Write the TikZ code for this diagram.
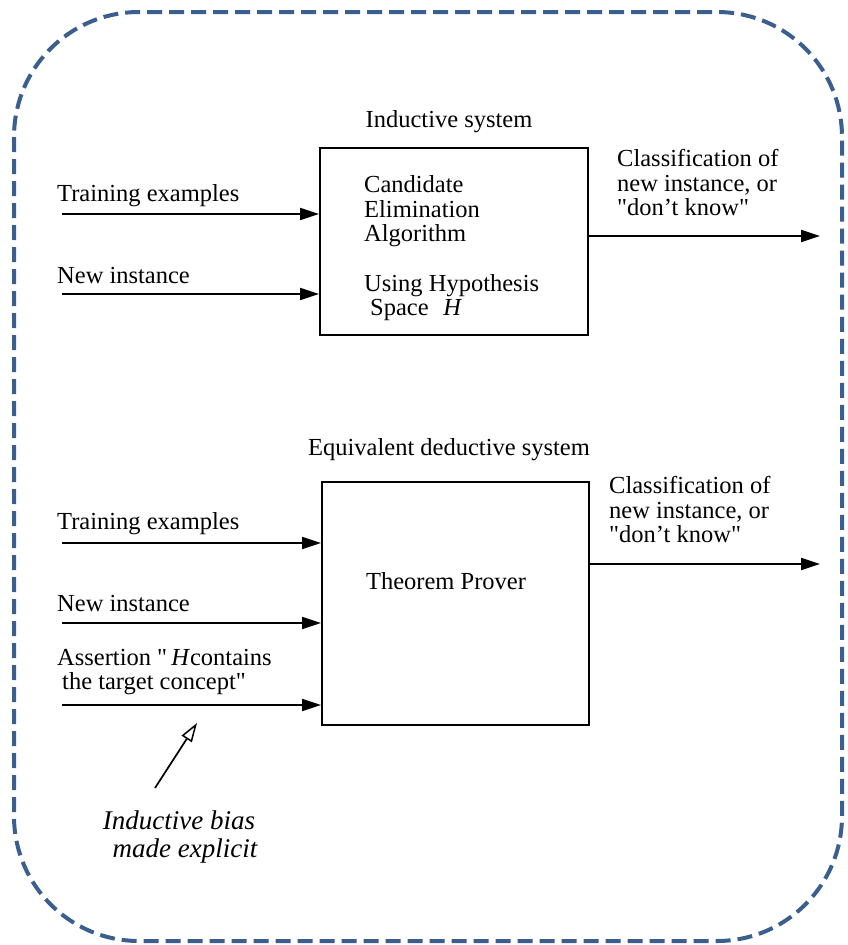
\documentclass[tikz,border=0pt]{standalone}
\usepackage{fontspec}
\setmainfont{Liberation Serif}[Ligatures=TeXOff]
\usetikzlibrary{arrows.meta}
\definecolor{frameblue}{HTML}{3A5F8F}
\tikzset{
  lbl/.style={font=\fontsize{24.5}{25}\selectfont, inner sep=0pt, align=left},
  biglbl/.style={font=\fontsize{27}{28}\selectfont\itshape, inner sep=0pt, align=center},
  boxnode/.style={draw, line width=1.8pt, inner sep=0pt},
  arr/.style={line width=1.8pt, -{Triangle[length=19pt,width=12pt]}},
  openarr/.style={line width=1.7pt, -{Triangle[open,length=19pt,width=12pt,line width=1.5pt]}},
  frame/.style={draw=frameblue, line width=4pt, dash pattern=on 15pt off 7pt, rounded corners=125pt}
}
\begin{document}
\begin{tikzpicture}[x=1pt,y=-1pt]
\useasboundingbox (0,0) rectangle (848,945);
\draw[frame] (14,12) rectangle (842,941);

% ---------- Inductive system ----------
\node[lbl, anchor=base] (ttl1) at (449,127) {Inductive system};
\node[boxnode, minimum width=268pt, minimum height=187pt] (box1) at (454,241.5) {};
\node[lbl, anchor=base west] (c1) at (364,192) {Candidate};
\node[lbl, anchor=base west] (c2) at (364,217) {Elimination};
\node[lbl, anchor=base west] (c3) at (364,241) {Algorithm};
\node[lbl, anchor=base west] (c4) at (364,291) {Using Hypothesis};
\node[lbl, anchor=base west] (c5) at (370,315) {Space\hspace{0.6em}\textit{H}};

\node[lbl, anchor=base west] (te1) at (57,201) {Training examples};
\coordinate (te1s) at (62,214);
\draw[arr] (te1s) -- (te1s -| box1.west);
\node[lbl, anchor=base west] (ni1) at (57,283) {New instance};
\coordinate (ni1s) at (62,294);
\draw[arr] (ni1s) -- (ni1s -| box1.west);

\node[lbl, anchor=base west] (cl1a) at (617,166) {Classification of};
\node[lbl, anchor=base west] (cl1b) at (617,191) {new instance, or};
\node[lbl, anchor=base west] (cl1c) at (617,215) {"don’t know"};
\coordinate (o1) at (820,236);
\draw[arr] (o1 -| box1.east) -- (o1);

% ---------- Equivalent deductive system ----------
\node[lbl, anchor=base] (ttl2) at (449,455) {Equivalent deductive system};
\node[boxnode, minimum width=267pt, minimum height=243pt] (box2) at (455.5,603.5) {};
\node[lbl, anchor=base] (tp) at (446,589) {Theorem Prover};

\node[lbl, anchor=base west] (te2) at (57,529) {Training examples};
\coordinate (te2s) at (62,543);
\draw[arr] (te2s) -- (te2s -| box2.west);
\node[lbl, anchor=base west] (ni2) at (57,611) {New instance};
\coordinate (ni2s) at (62,623);
\draw[arr] (ni2s) -- (ni2s -| box2.west);
\node[lbl, anchor=base west] (as1) at (57,665) {Assertion "\,\textit{H}contains};
\node[lbl, anchor=base west] (as2) at (62,689) {the target concept"};
\coordinate (as2s) at (62,705);
\draw[arr] (as2s) -- (as2s -| box2.west);

\node[lbl, anchor=base west] (cl2a) at (609,493) {Classification of};
\node[lbl, anchor=base west] (cl2b) at (609,518) {new instance, or};
\node[lbl, anchor=base west] (cl2c) at (609,542) {"don’t know"};
\coordinate (o2) at (820,564);
\draw[arr] (o2 -| box2.east) -- (o2);

% ---------- Inductive bias ----------
\node[biglbl, anchor=base] (ib1) at (179,829) {Inductive bias};
\node[biglbl, anchor=base] (ib2) at (185,857) {made explicit};
\coordinate (ibs) at (155,788);
\coordinate (ibe) at (197,723);
\draw[openarr] (ibs) -- (ibe);
\end{tikzpicture}
\end{document}
